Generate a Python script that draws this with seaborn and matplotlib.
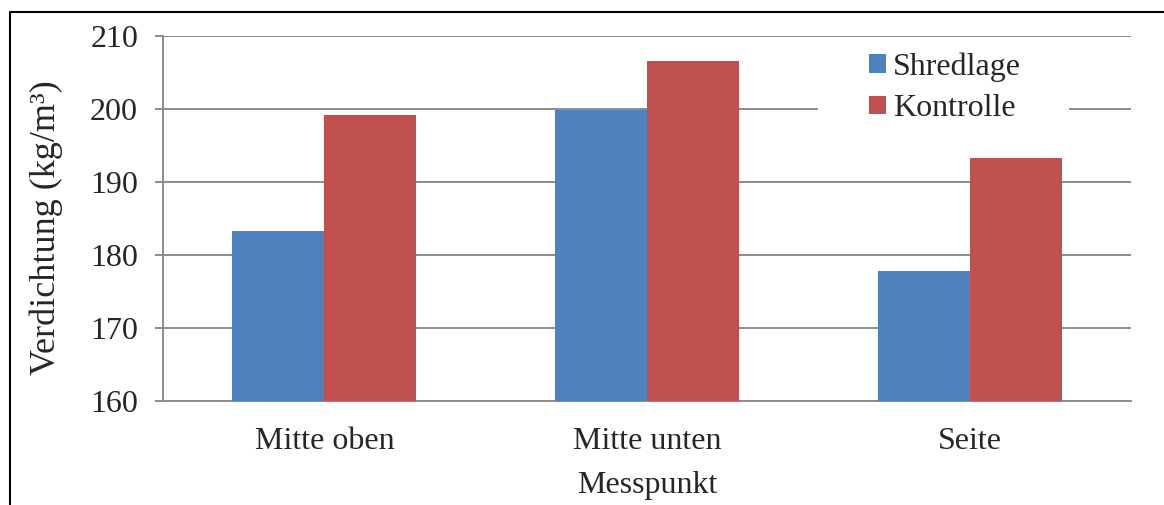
import matplotlib
matplotlib.use("Agg")
import matplotlib.pyplot as plt
from matplotlib.lines import Line2D
from matplotlib.patches import Patch, Rectangle
import seaborn as sns
import pandas as pd

categories = ["Mitte oben", "Mitte unten", "Seite"]
series_names = ["Shredlage", "Kontrolle"]
shredlage = [183.2, 199.9, 177.8]
kontrolle = [199.2, 206.6, 193.2]
colors = ["#4F81BD", "#C0504D"]
y_ticks = [160, 170, 180, 190, 200, 210]

df = pd.DataFrame({
    "Messpunkt": categories * 2,
    "Gruppe": [series_names[0]] * 3 + [series_names[1]] * 3,
    "Wert": shredlage + kontrolle,
})

sns.set_style("white")
plt.rcParams["font.family"] = ["Liberation Serif", "DejaVu Serif"]

W, H = 1164, 505
fig = plt.figure(figsize=(W / 100, H / 100), dpi=100)
ax_left, ax_right, ax_top, ax_bottom = 163, 1131, 36, 400.5
ax = fig.add_axes([ax_left / W, 1 - ax_bottom / H,
                   (ax_right - ax_left) / W, (ax_bottom - ax_top) / H])

def px_to_axes(x, y):
    return ((x - ax_left) / (ax_right - ax_left),
            (ax_bottom - y) / (ax_bottom - ax_top))

sns.barplot(data=df, x="Messpunkt", y="Wert", hue="Gruppe", palette=colors,
            width=0.57, saturation=1, ax=ax, legend=False, zorder=3,
            linewidth=0)

grid_color = "#8c8c8c"
fs = 23
ax.set_ylim(160, 210)
ax.set_xlim(-0.5, 2.5)
ax.set_yticks(y_ticks)
ax.set_yticklabels([str(t) for t in y_ticks], fontsize=fs)
ax.yaxis.grid(True, color=grid_color, linewidth=1.4, zorder=0)
ax.set_axisbelow(True)

ax.set_xticks(range(len(categories)))
ax.set_xticklabels(categories, fontsize=fs)
ax.set_xticks([-0.5, 0.5, 1.5, 2.5], minor=True)
ax.tick_params(axis="x", which="major", length=0, pad=19)
ax.tick_params(axis="x", which="minor", length=6, width=1.4, color=grid_color)
ax.tick_params(axis="y", which="major", length=6, width=1.4, color=grid_color,
               left=True, pad=12)

for side in ["top", "right"]:
    ax.spines[side].set_visible(False)
for side in ["left", "bottom"]:
    ax.spines[side].set_color(grid_color)
    ax.spines[side].set_linewidth(1.4)

ax.set_xlabel("Messpunkt", fontsize=fs)
ax.xaxis.set_label_coords(*px_to_axes(647, 471))
ax.set_ylabel("Verdichtung (kg/m³)", fontsize=26)
ax.yaxis.set_label_coords(*px_to_axes(63, 227.5))

# white background behind the legend entries
x0, y0 = px_to_axes(818, 126)
x1, y1 = px_to_axes(1069, 46)
ax.add_patch(Rectangle((x0, y0), x1 - x0, y1 - y0, transform=ax.transAxes,
                       facecolor="white", edgecolor="none", zorder=1))

handles = [Patch(facecolor=c, edgecolor="none") for c in colors]
leg = ax.legend(handles, series_names, loc="upper left",
                bbox_to_anchor=px_to_axes(869, 52),
                frameon=False, fontsize=fs, handlelength=0.53, handleheight=0.53,
                handletextpad=0.22, labelspacing=0.40, borderpad=0,
                borderaxespad=0)
leg.set_zorder(5)

# outer frame lines
fig.add_artist(Line2D([10 / W, 1.0], [1 - 12 / H, 1 - 12 / H], color="black", linewidth=1.5))
fig.add_artist(Line2D([10 / W, 10 / W], [0, 1 - 12 / H], color="black", linewidth=1.5))

fig.savefig("out.png", dpi=100)
